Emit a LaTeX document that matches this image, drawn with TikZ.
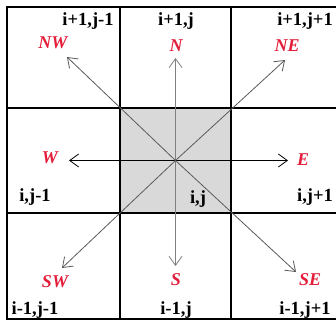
\documentclass[tikz,border=0pt]{standalone}
\usepackage{fontspec}
\setmainfont{Liberation Serif}
\usetikzlibrary{arrows.meta}
\definecolor{lblred}{RGB}{228,30,58}
\definecolor{cellgray}{RGB}{217,217,217}
\definecolor{arrgray}{RGB}{90,90,90}
\begin{document}
\begin{tikzpicture}[x=1pt,y=-1pt,
  gridline/.style={line width=2pt,black},
  arr/.style={line width=0.8pt,arrgray,-{Straight Barb[length=9pt,width=13pt,line width=0.8pt]}},
  dirlbl/.style={text=lblred,font=\fontsize{18}{18}\selectfont\bfseries\itshape,inner sep=0pt},
  idxlbl/.style={text=black,font=\fontsize{18.5}{18.5}\selectfont\bfseries,inner sep=0pt}]
\useasboundingbox (0,0) rectangle (336,323);
\fill[white] (0,0) rectangle (336,323);
% centre cell
\fill[cellgray] (120,108) rectangle (231,213);
% grid
\draw[gridline] (343,7) -- (7,7) -- (7,319) -- (343,319);
\draw[gridline] (7,108) -- (343,108);
\draw[gridline] (7,213) -- (343,213);
\draw[gridline] (120,7) -- (120,319);
\draw[gridline] (231,7) -- (231,319);
% centre and arrow tips
\coordinate (c) at (175.5,160.5);
\coordinate (tN) at (175.5,58);
\coordinate (tS) at (175.5,266);
\coordinate (tW) at (69,160.5);
\coordinate (tE) at (288,160.5);
\coordinate (tNW) at (67,57);
\coordinate (tNE) at (285,60);
\coordinate (tSW) at (62,268);
\coordinate (tSE) at (296,272);
\draw[arr,line width=1.4pt,gray] (c) -- (tN);
\draw[arr,line width=1.4pt,gray] (c) -- (tS);
\draw[arr,black] (c) -- (tW);
\draw[arr,black] (c) -- (tE);
\draw[arr] (c) -- (tNW);
\draw[arr] (c) -- (tNE);
\draw[arr] (c) -- (tSW);
\draw[arr] (c) -- (tSE);
% direction labels
\node[dirlbl] (NW) at (53,43) {NW};
\node[dirlbl] (N) at (176,46) {N};
\node[dirlbl] (NE) at (287,46) {NE};
\node[dirlbl] (W) at (50,158) {W};
\node[dirlbl] (E) at (303,160) {E};
\node[dirlbl] (SW) at (55,282) {SW};
\node[dirlbl] (S) at (176,280) {S};
\node[dirlbl] (SE) at (310,280) {SE};
% index labels
\node[idxlbl] (i1) at (88,21) {i+1,j-1};
\node[idxlbl] (i2) at (176,21) {i+1,j};
\node[idxlbl] (i3) at (305,21) {i+1,j+1};
\node[idxlbl] (i4) at (35,197) {i,j-1};
\node[idxlbl] (i5) at (198,199) {i,j};
\node[idxlbl] (i6) at (315,197) {i,j+1};
\node[idxlbl] (i7) at (35,310) {i-1,j-1};
\node[idxlbl] (i8) at (176,310) {i-1,j};
\node[idxlbl] (i9) at (305,310) {i-1,j+1};
\end{tikzpicture}
\end{document}
